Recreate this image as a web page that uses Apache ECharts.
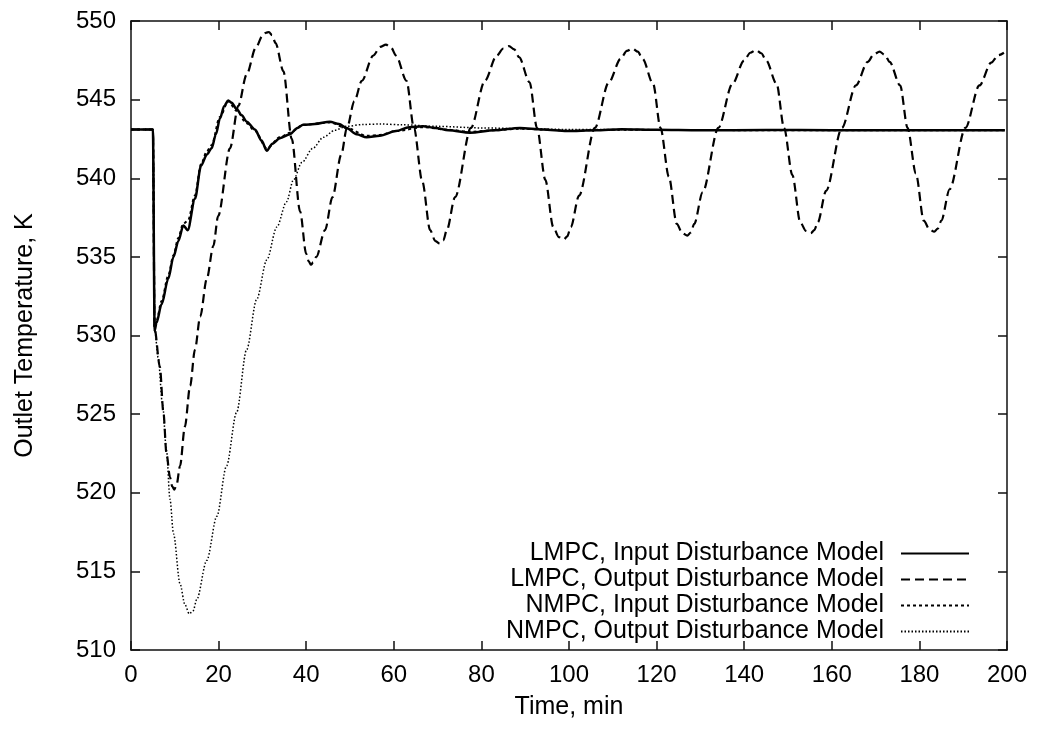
<!DOCTYPE html>
<html>
<head>
<meta charset="utf-8">
<script src="https://cdn.jsdelivr.net/npm/echarts@6/dist/echarts.min.js"></script>
<style>
html,body{margin:0;padding:0;background:#fff;}
#chart{width:1038px;height:734px;}
</style>
</head>
<body>
<div id="chart"></div>
<script>
// Time (min), Outlet temperature (K)
var seriesNames = [
  'LMPC, Input Disturbance Model',
  'LMPC, Output Disturbance Model',
  'NMPC, Input Disturbance Model',
  'NMPC, Output Disturbance Model'
];
var xTicks = {min: 0, max: 200, step: 20};
var yTicks = {min: 510, max: 550, step: 5};

var lmpcInput = [
  [0,543.1],[5.0,543.1],[5.4,530.3],[5.8,530.8],[7.0,532.0],[8.5,533.6],[9.7,535.0],
  [10.8,536.0],[11.95,537.0],[12.95,536.7],[14.6,538.7],[16.0,540.8],[17.3,541.5],
  [18.4,541.9],[19.4,542.8],[20.3,543.8],[21.3,544.6],[22.2,544.95],[23.0,544.8],
  [24.1,544.4],[25.3,544.0],[26.4,543.6],[28.3,543.1],[29.8,542.4],[31.0,541.75],
  [32.3,542.2],[34.0,542.55],[36.3,542.8],[38.0,543.2],[39.3,543.4],[42.0,543.45],
  [45.4,543.6],[47.5,543.45],[49.2,543.2],[51.5,542.8],[53.8,542.6],[56.8,542.7],
  [60.5,543.0],[63.5,543.25],[66.7,543.3],[69.5,543.2],[72.5,543.05],[77.4,542.9],
  [83.0,543.05],[88.8,543.2],[94.0,543.1],[99.5,543.0],[106,543.05],[112,543.12],
  [120,543.08],[130,543.05],[145,543.07],[160,543.06],[180,543.06],[199.5,543.06]
];

var lmpcOutput = [
  [0,543.1],[5.0,543.1],[5.4,530.4],[6.6,528.0],[7.4,525.1],[8.1,522.5],[8.9,521.0],
  [9.4,520.4],[9.9,520.2],[10.4,520.5],[11.2,521.7],[12.3,524.2],[13.5,526.8],
  [14.6,529.1],[15.8,531.2],[17.3,533.6],[18.8,535.7],[19.9,537.6],[22.6,541.9],
  [24.5,544.6],[26.4,546.6],[28.5,548.3],[30.0,549.05],[30.8,549.25],[31.5,549.3],
  [32.2,549.1],[33.0,548.6],[34.8,546.8],[36.7,542.5],[38.6,537.9],[40.0,535.2],
  [40.6,534.7],[41.1,534.5],[41.6,534.65],[42.3,535.0],[44.3,536.7],[46.0,538.8],
  [48.0,541.5],[49.3,543.2],[51.0,544.9],[52.7,546.2],[55.3,547.8],[56.9,548.35],
  [58.2,548.5],[59.4,548.3],[60.5,547.8],[62.9,546.2],[64.6,543.2],[66.5,539.8],
  [68.3,536.7],[69.5,536.0],[70.5,535.85],[71.3,536.05],[72.1,536.7],[74.0,538.8],
  [77.6,543.2],[80.8,546.2],[83.5,547.8],[85.0,548.25],[86.3,548.4],[87.5,548.2],
  [88.6,547.7],[91.0,546.1],[92.7,543.2],[94.6,539.9],[96.4,536.9],[97.7,536.25],
  [98.8,536.1],[99.6,536.3],[100.4,536.9],[102.3,538.9],[105.9,543.2],[109.1,546.1],
  [111.8,547.6],[113.2,548.1],[114.5,548.25],[115.7,548.05],[116.8,547.6],[119.2,546.0],
  [120.9,543.2],[122.8,540.1],[124.6,537.1],[125.9,536.5],[127.0,536.35],[127.8,536.55],
  [128.6,537.1],[130.5,539.1],[134.1,543.2],[137.3,546.0],[140.0,547.5],[141.4,547.98],
  [142.7,548.15],[143.9,547.95],[145.0,547.5],[147.4,546.0],[149.1,543.2],[151.0,540.2],
  [152.8,537.2],[154.1,536.65],[155.2,536.5],[156.0,536.7],[156.8,537.2],[158.7,539.2],
  [162.3,543.2],[165.5,545.9],[168.2,547.4],[169.6,547.88],[170.9,548.05],[172.1,547.85],
  [173.2,547.4],[175.6,545.9],[177.3,543.2],[179.2,540.3],[181.0,537.3],[182.3,536.75],
  [183.4,536.6],[184.2,536.8],[185.0,537.3],[186.9,539.3],[190.5,543.2],[193.7,545.9],
  [196.4,547.35],[198.0,547.82],[199.3,547.98]
];

var nmpcInput = [
  [0,543.1],[5.0,543.1],[5.4,530.3],[5.8,530.9],[7.0,532.2],[8.5,533.8],[9.7,535.1],
  [10.8,536.2],[11.9,537.1],[13.0,537.3],[14.6,538.9],[16.0,540.9],[17.3,541.7],
  [18.4,542.1],[20.3,543.9],[22.2,544.9],[24.1,544.3],[26.4,543.5],[28.3,543.0],
  [31.0,541.9],[34.0,542.6],[36.3,542.9],[39.3,543.4],[45.4,543.55],[49.2,543.2],
  [53.8,542.7],[56.8,542.75],[60.5,543.0],[66.7,543.25],[72.0,543.1],[77.4,542.95],
  [83.0,543.05],[88.8,543.15],[94.0,543.1],[99.5,543.02],[110,543.08],[140,543.06],
  [199.5,543.06]
];

var nmpcOutput = [
  [0,543.1],[5.0,543.1],[5.4,530.4],[6.2,528.6],[7.2,525.6],[8.1,522.7],[8.9,519.6],
  [9.7,517.4],[11.2,514.2],[12.3,512.9],[13.3,512.3],[14.2,512.5],[15.0,513.2],
  [17.3,515.7],[19.6,518.5],[21.8,521.7],[24.1,525.1],[26.4,529.1],[28.7,532.3],
  [31.0,534.8],[33.3,536.9],[35.5,538.5],[37.1,539.9],[39.0,541.0],[41.5,541.9],
  [43.9,542.6],[46.5,543.05],[49.2,543.3],[53.0,543.42],[57.0,543.45],[62.0,543.4],
  [70.0,543.3],[80.0,543.2],[90.0,543.15],[100,543.1],[120,543.08],[150,543.07],
  [199.5,543.07]
];

var FONT = '"Liberation Sans", Arial, Helvetica, sans-serif';
var chart = echarts.init(document.getElementById('chart'), null, {renderer: 'canvas'});

function axisCommon() {
  return {
    axisLine: {show: true, onZero: false, lineStyle: {color: '#111', width: 1.5}},
    axisTick: {show: true, inside: true, length: 9, lineStyle: {color: '#111', width: 1.5}},
    splitLine: {show: false}
  };
}

function lineSeries(name, data, style, z) {
  return {
    name: name, type: 'line', data: data, showSymbol: false, symbol: 'none',
    smooth: 0.3, smoothMonotone: 'x', z: z,
    itemStyle: {color: '#000'},
    lineStyle: style, animation: false
  };
}

var xBottom = Object.assign(axisCommon(), {
  type: 'value', position: 'bottom', min: xTicks.min, max: xTicks.max, interval: xTicks.step,
  name: 'Time, min', nameLocation: 'middle', nameGap: 57, nameMoveOverlap: false,
  nameTextStyle: {fontSize: 25, color: '#000', fontFamily: FONT, verticalAlign: 'middle'},
  axisLabel: {fontSize: 24, color: '#000', fontFamily: FONT, margin: 13}
});
var xTop = Object.assign(axisCommon(), {
  type: 'value', position: 'top', min: xTicks.min, max: xTicks.max, interval: xTicks.step,
  axisLabel: {show: false}
});
var yLeft = Object.assign(axisCommon(), {
  type: 'value', position: 'left', min: yTicks.min, max: yTicks.max, interval: yTicks.step,
  name: 'Outlet Temperature, K', nameLocation: 'middle', nameGap: 106, nameRotate: 90,
  nameMoveOverlap: false,
  nameTextStyle: {fontSize: 25, color: '#000', fontFamily: FONT, verticalAlign: 'middle'},
  axisLabel: {fontSize: 24, color: '#000', fontFamily: FONT, margin: 15}
});
var yRight = Object.assign(axisCommon(), {
  type: 'value', position: 'right', min: yTicks.min, max: yTicks.max, interval: yTicks.step,
  axisLabel: {show: false}
});

chart.setOption({
  animation: false,
  backgroundColor: '#fff',
  grid: {left: 131, right: 31, top: 21, bottom: 84, containLabel: false},
  xAxis: [xBottom, xTop],
  yAxis: [yLeft, yRight],
  legend: {
    data: seriesNames,
    orient: 'vertical', align: 'right',
    right: 63, top: 536,
    itemWidth: 68, itemHeight: 12, itemGap: 1,
    itemStyle: {opacity: 0},
    textStyle: {fontSize: 25, color: '#000', fontFamily: FONT, lineHeight: 24, padding: [0, 12, 0, 0]},
    selectedMode: false
  },
  series: [
    lineSeries(seriesNames[2], nmpcInput, {color: '#000', width: 2, type: [3, 3]}, 2),
    lineSeries(seriesNames[3], nmpcOutput, {color: '#000', width: 1.5, type: [1.5, 2]}, 3),
    lineSeries(seriesNames[1], lmpcOutput, {color: '#000', width: 2.2, type: [9, 5]}, 4),
    lineSeries(seriesNames[0], lmpcInput, {color: '#000', width: 2.5, type: 'solid'}, 5)
  ]
});
</script>
</body>
</html>
